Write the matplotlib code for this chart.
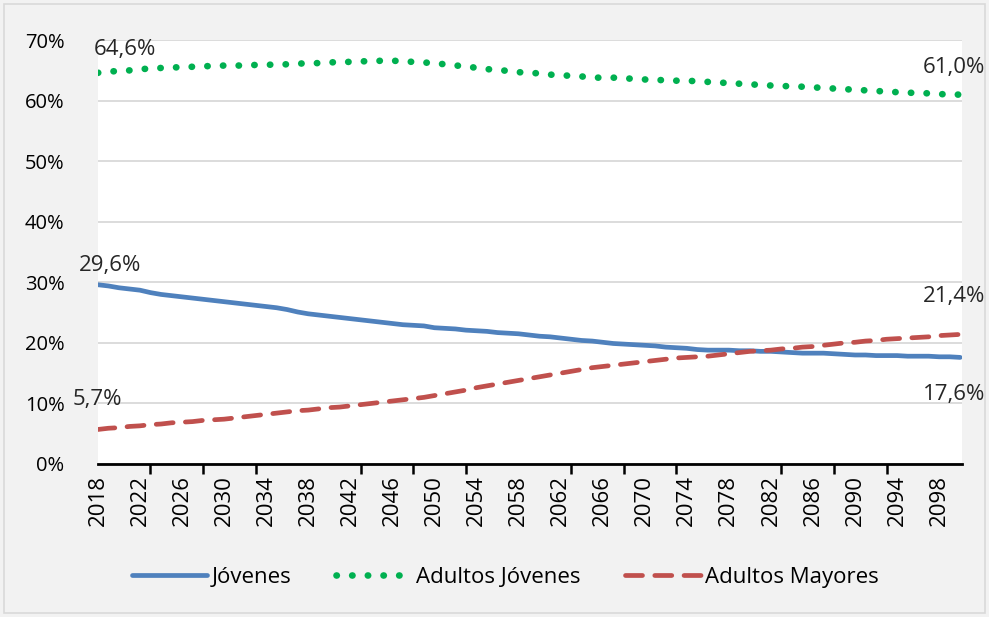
import matplotlib.pyplot as plt
from matplotlib.patches import Rectangle
from matplotlib.ticker import FuncFormatter
import numpy as np

years = np.arange(2018, 2101)

jovenes = [29.6, 29.4, 29.1, 28.9, 28.7, 28.3, 28.0, 27.8, 27.6, 27.4,
           27.2, 27.0, 26.8, 26.6, 26.4, 26.2, 26.0, 25.8, 25.5, 25.1,
           24.8, 24.6, 24.4, 24.2, 24.0, 23.8, 23.6, 23.4, 23.2, 23.0,
           22.9, 22.8, 22.5, 22.4, 22.3, 22.1, 22.0, 21.9, 21.7, 21.6,
           21.5, 21.3, 21.1, 21.0, 20.8, 20.6, 20.4, 20.3, 20.1, 19.9,
           19.8, 19.7, 19.6, 19.5, 19.3, 19.2, 19.1, 18.9, 18.8, 18.8,
           18.8, 18.7, 18.7, 18.6, 18.6, 18.5, 18.4, 18.3, 18.3, 18.3,
           18.2, 18.1, 18.0, 18.0, 17.9, 17.9, 17.9, 17.8, 17.8, 17.8,
           17.7, 17.7, 17.6]

adultos_jovenes = [64.6, 64.8, 64.9, 65.0, 65.2, 65.3, 65.4, 65.5, 65.5, 65.6,
                   65.7, 65.7, 65.8, 65.8, 65.8, 65.9, 65.9, 66.0, 66.0, 66.1,
                   66.2, 66.2, 66.3, 66.4, 66.4, 66.5, 66.5, 66.6, 66.6, 66.5,
                   66.4, 66.3, 66.2, 66.0, 65.8, 65.7, 65.4, 65.2, 65.1, 64.9,
                   64.7, 64.6, 64.5, 64.3, 64.2, 64.1, 64.0, 63.8, 63.8, 63.8,
                   63.7, 63.6, 63.5, 63.4, 63.4, 63.3, 63.3, 63.2, 63.1, 63.0,
                   62.9, 62.8, 62.7, 62.6, 62.5, 62.4, 62.4, 62.3, 62.2, 62.1,
                   62.0, 61.9, 61.8, 61.7, 61.6, 61.5, 61.4, 61.3, 61.3, 61.2,
                   61.1, 61.0, 61.0]

adultos_mayores = [5.7, 5.9, 6.0, 6.2, 6.3, 6.5, 6.6, 6.8, 6.9, 7.0,
                   7.2, 7.3, 7.4, 7.6, 7.8, 8.0, 8.2, 8.4, 8.6, 8.8,
                   8.9, 9.1, 9.3, 9.4, 9.6, 9.8, 10.0, 10.2, 10.4, 10.6,
                   10.8, 11.0, 11.3, 11.6, 11.9, 12.2, 12.6, 12.9, 13.2, 13.5,
                   13.8, 14.1, 14.4, 14.7, 15.0, 15.3, 15.6, 15.9, 16.1, 16.3,
                   16.5, 16.7, 16.9, 17.1, 17.3, 17.5, 17.6, 17.7, 17.8, 18.0,
                   18.2, 18.4, 18.6, 18.7, 18.8, 19.0, 19.1, 19.3, 19.4, 19.6,
                   19.8, 20.0, 20.1, 20.3, 20.4, 20.6, 20.7, 20.8, 20.9, 21.0,
                   21.2, 21.3, 21.4]

plt.rcParams['font.family'] = ['Open Sans', 'DejaVu Sans']

fig = plt.figure(figsize=(9.89, 6.17), dpi=100, facecolor='#f2f2f2')
fig.patches.append(Rectangle((0.004, 0.006), 0.992, 0.988, transform=fig.transFigure,
                             fill=False, edgecolor='#d9d9d9', linewidth=1.2))
ax = fig.add_axes([0.099, 0.248, 0.874, 0.687])
ax.set_facecolor('white')

ax.plot(years, jovenes, color='#4f81bd', lw=3.4, solid_capstyle='round', label='Jóvenes')
ax.plot(years, adultos_jovenes, color='#00b050', lw=4.8, linestyle=(0, (0.05, 2.3)),
        dash_capstyle='round', label='Adultos Jóvenes')
ax.plot(years, adultos_mayores, color='#c0504d', lw=3.4, linestyle=(0, (3.6, 2.6)),
        dash_capstyle='round', label='Adultos Mayores')

ax.set_xlim(2018, 2100.2)
ax.set_ylim(0, 70)
ax.set_yticks(np.arange(0, 71, 10))
ax.yaxis.set_major_formatter(FuncFormatter(lambda v, p: f'{v:.0f}%'))
ax.grid(axis='y', color='#d9d9d9', lw=1.3)
ax.set_axisbelow(True)
for s in ['top', 'right', 'left']:
    ax.spines[s].set_visible(False)
ax.spines['bottom'].set_linewidth(2)
ax.spines['bottom'].set_color('black')

ax.set_xticks(years[::4])
ax.set_xticklabels([str(y) for y in years[::4]], rotation=90, fontsize=16)
ax.set_xticks(years[::5], minor=True)
ax.tick_params(axis='x', which='major', length=0, pad=8)
ax.tick_params(axis='x', which='minor', length=7, width=1.8, color='black', direction='out')
ax.tick_params(axis='y', length=0, labelsize=14.5, pad=24)

def pct(v):
    return f'{v:.1f}%'.replace('.', ',')

kw = dict(fontsize=16, color='#262626')
ax.annotate(pct(adultos_jovenes[0]), (years[0], adultos_jovenes[0]), xytext=(-3, 9),
            textcoords='offset points', ha='left', va='bottom', **kw)
ax.annotate(pct(adultos_jovenes[-1]), (years[-1], adultos_jovenes[-1]), xytext=(18, 12),
            textcoords='offset points', ha='right', va='bottom', annotation_clip=False, **kw)
ax.annotate(pct(jovenes[0]), (years[0], jovenes[0]), xytext=(-14, 6),
            textcoords='offset points', ha='left', va='bottom', **kw)
ax.annotate(pct(jovenes[-1]), (years[-1], jovenes[-1]), xytext=(18, -19),
            textcoords='offset points', ha='right', va='top', annotation_clip=False, **kw)
ax.annotate(pct(adultos_mayores[0]), (years[0], adultos_mayores[0]), xytext=(-18, 14),
            textcoords='offset points', ha='left', va='bottom', **kw)
ax.annotate(pct(adultos_mayores[-1]), (years[-1], adultos_mayores[-1]), xytext=(18, 20),
            textcoords='offset points', ha='right', va='bottom', annotation_clip=False, **kw)

leg = fig.legend(loc='center', bbox_to_anchor=(0.511, 0.064), ncol=3, frameon=False,
                 fontsize=16, handlelength=3.4, columnspacing=2.0, handletextpad=0.2)

fig.savefig('out.png', dpi=100, facecolor=fig.get_facecolor())
